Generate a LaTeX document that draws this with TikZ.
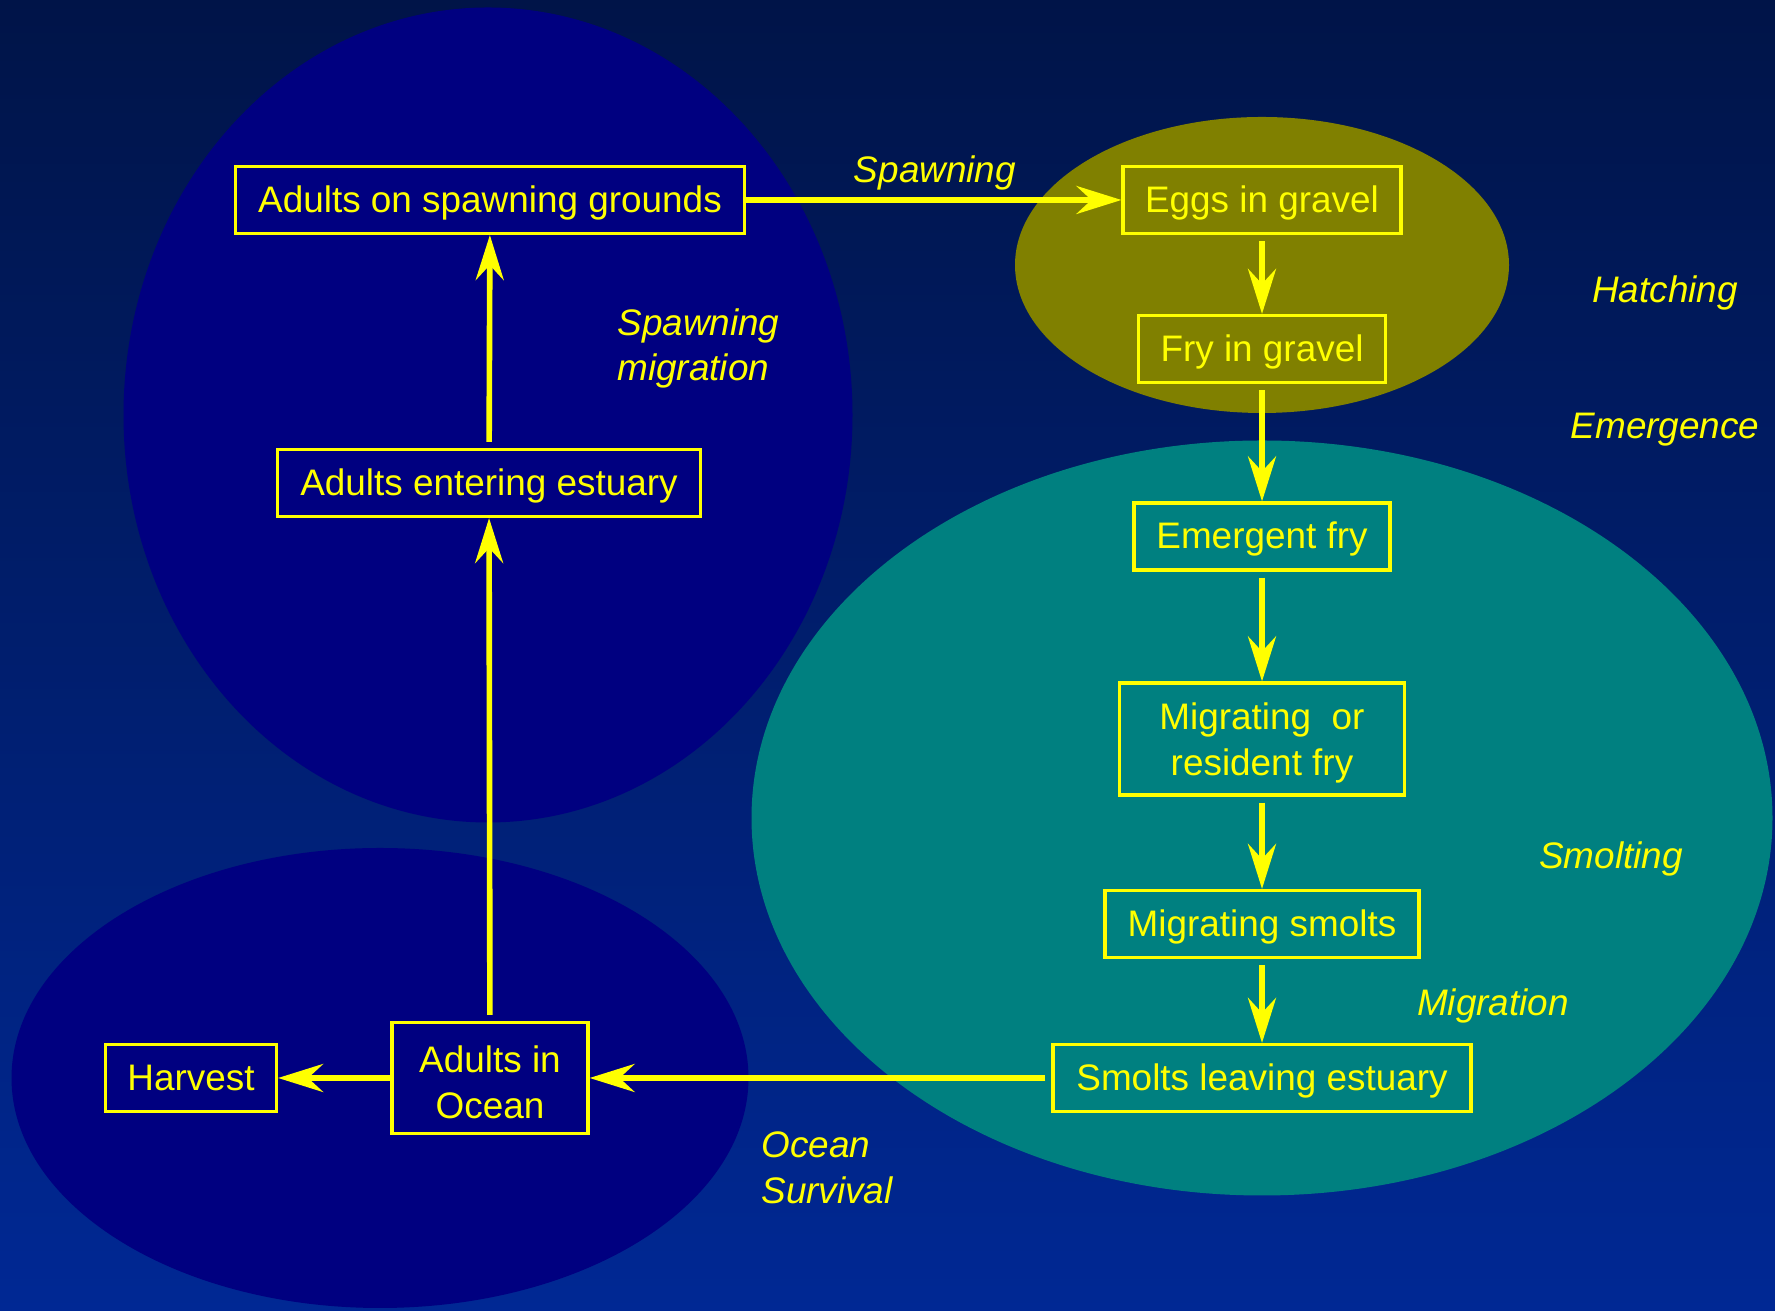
\documentclass[tikz,border=0pt]{standalone}
\usepackage{fontspec}
\setmainfont{Liberation Sans}
\usepackage{tikz}
\usetikzlibrary{arrows.meta,positioning}
\usepackage{xcolor}

\definecolor{bgtop}{HTML}{001448}
\definecolor{bgbottom}{HTML}{002894}
\definecolor{navyzone}{HTML}{000080}
\definecolor{olivezone}{HTML}{808000}
\definecolor{tealzone}{HTML}{008080}
\definecolor{lineyellow}{HTML}{FFFF00}

\begin{document}
\begin{tikzpicture}[
      every node/.style={font=\fontsize{10.5}{13}\selectfont, text=lineyellow},
      twolinebox/.style={
        rectangle, draw=lineyellow, line width=0.9pt, inner xsep=2pt,
        minimum height=0.67cm, align=center
      },
      stagebox/.style={twolinebox, text height=0.85em, text depth=0.15em},
      steplabel/.style={font=\fontsize{10.5}{13}\selectfont\itshape, align=left},
      arr/.style={-{Stealth[length=0.45cm, width=0.28cm, inset=0.15cm]},
        line width=1.6pt, draw=lineyellow},
      varr/.style={arr, shorten <=0.06cm}
    ]

    % ===== Background and zones =====
    \useasboundingbox (0,0) rectangle (17.75,13.11);
    \shade[top color=bgtop, bottom color=bgbottom] (0,0) rectangle (17.75,13.11);
    \fill[navyzone] (4.88, 8.96) ellipse [x radius=3.645, y radius=4.075];
    \fill[navyzone] (3.80, 2.33) ellipse [x radius=3.685, y radius=2.30];
    \fill[olivezone] (12.62, 10.46) ellipse [x radius=2.47, y radius=1.48];
    \fill[tealzone] (12.62, 4.93) ellipse [x radius=5.105, y radius=3.775];

    % ===== Freshwater stages =====
    \node[stagebox, minimum width=5.09cm] (spawn) at (4.90, 11.11) {Adults on spawning grounds};
    \node[stagebox, minimum width=2.78cm] (eggs) at (12.62, 11.11) {Eggs in gravel};
    \node[stagebox, minimum width=2.47cm] (fry) at (12.62, 9.62) {Fry in gravel};
    \node[stagebox, minimum width=4.23cm] (entering) at (4.89, 8.28) {Adults entering estuary};
    \node[stagebox, minimum width=2.56cm] (emergent) at (12.62, 7.745) {Emergent fry};
    \node[twolinebox, minimum width=2.85cm, minimum height=1.12cm] (resident) at (12.62, 5.72)
      {\rule{0pt}{0.95em}Migrating\ \ or\\resident fry};
    \node[stagebox, minimum width=3.14cm] (smolts) at (12.62, 3.87) {Migrating smolts};
    \node[stagebox, minimum width=4.18cm] (leaving) at (12.62, 2.33) {Smolts leaving estuary};

    % ===== Ocean stages =====
    \node[twolinebox, minimum width=1.96cm, minimum height=1.11cm] (ocean) at (4.90, 2.33)
      {\rule{0pt}{0.95em}Adults in\\Ocean};
    \node[stagebox, minimum width=1.71cm] (harvest) at (1.91, 2.33) {Harvest};

    % ===== Transition labels =====
    \node[steplabel] (spawnlbl) at (9.35, 11.385) {Spawning};
    \node[steplabel, anchor=west] (migrlbl) at (6.05, 9.625) {Spawning\\migration};
    \node[steplabel] (hatchlbl) at (16.65, 10.185) {Hatching};
    \node[steplabel] (emerglbl) at (16.65, 8.81) {Emergence};
    \node[steplabel] (smoltlbl) at (16.11, 4.525) {Smolting};
    \node[steplabel] (outlbl) at (14.93, 3.055) {Migration};
    \node[steplabel, anchor=west] (survlbl) at (7.49, 1.43) {Ocean\\Survival};

    % ===== Arrows =====
    \draw[arr] (spawn) -- (eggs);
    \draw[varr] (eggs) -- (fry);
    \draw[varr] (fry) -- (emergent);
    \draw[varr] (emergent) -- (resident);
    \draw[varr] (resident) -- (smolts);
    \draw[varr] (smolts) -- (leaving);
    \draw[varr] (leaving) -- (ocean);
    \draw[arr] (ocean) -- (harvest);
    \draw[varr] (ocean) -- (entering);
    \draw[varr] (entering) -- (spawn);
  \end{tikzpicture}
\end{document}
